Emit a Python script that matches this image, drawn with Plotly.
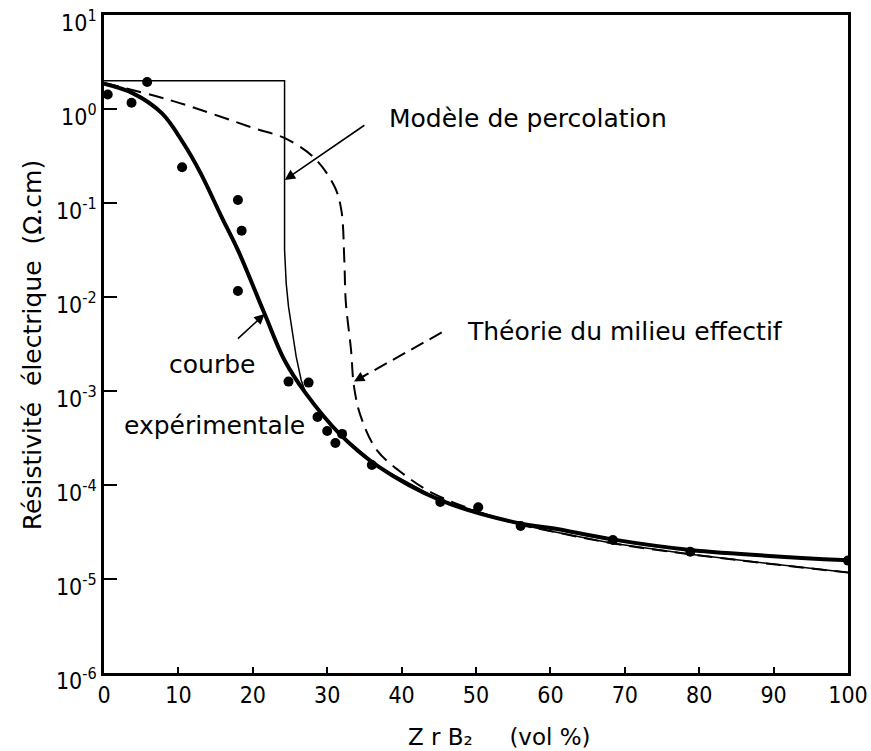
import numpy as np
import plotly.graph_objects as go

# ZrB2 volume fraction (vol %) and electrical resistivity (ohm.cm)
exp_x = [0.5, 3.7, 5.8, 10.5, 18.0, 18.5, 18.0, 24.8, 27.5, 28.7, 30.0, 31.1,
         32.0, 36.0, 45.2, 50.3, 56.0, 68.4, 78.8, 100]
exp_y = [1.43, 1.17, 1.94, 0.24, 0.108, 0.0507, 0.0116, 1.26e-3, 1.23e-3,
         5.3e-4, 3.75e-4, 2.8e-4, 3.5e-4, 1.63e-4, 6.6e-5, 5.8e-5, 3.66e-5,
         2.6e-5, 1.95e-5, 1.57e-5]

# fitted experimental curve
fit_x = [0, 3.9, 7.8, 10.7, 13.0, 15.8, 18.0, 21.6, 24.3, 27.1, 31.6, 36.9,
         45.2, 55.9, 60.3, 68.3, 78.8, 100]
fit_y = [1.86, 1.47, 0.90, 0.43, 0.207, 0.0714, 0.0316, 6.6e-3, 2.1e-3,
         9.5e-4, 3.55e-4, 1.57e-4, 6.9e-5, 3.9e-5, 3.47e-5, 2.64e-5,
         2.04e-5, 1.58e-5]

# percolation model
perc_x = [0, 24.27, 24.27, 24.49, 24.8, 25.24, 25.83, 26.5, 27.2, 31.6,
          36.9, 45.2, 55.9, 60.3, 68.3, 78.8, 100]
perc_y = [2.0, 2.0, 0.0316, 0.014, 7.9e-3, 4.47e-3, 2.32e-3, 1.31e-3,
          9.1e-4, 3.55e-4, 1.57e-4, 6.9e-5, 3.8e-5, 3.2e-5, 2.4e-5,
          1.83e-5, 1.17e-5]

# effective medium theory
emt_x = [0, 8.8, 15.7, 20.3, 24.3, 28.3, 31.0, 31.9, 32.3, 32.5, 33.2, 33.6,
         34.5, 36.7, 40.7, 44.3, 50, 55.9, 60.3, 68.3, 78.8, 100]
emt_y = [1.9, 1.25, 0.83, 0.62, 0.49, 0.30, 0.149, 0.084, 0.0248, 8.9e-3,
         2.75e-3, 1.12e-3, 5.4e-4, 2.34e-4, 1.23e-4, 8.1e-5, 5.3e-5, 3.8e-5,
         3.2e-5, 2.4e-5, 1.83e-5, 1.17e-5]

x_ticks = [0, 10, 20, 30, 40, 50, 60, 70, 80, 90, 100]
y_exponents = [-6, -5, -4, -3, -2, -1, 0, 1]

# label arrows: (tail x, tail y) -> (tip x, tip y)
perc_arrow = (35.2, 0.69, 24.3, 0.176)
emt_arrow = (45.4, 4.2e-3, 33.6, 1.26e-3)
fit_arrow = (17.8, 3.5e-3, 21.6, 6.6e-3)

TXT = "DejaVu Sans"
NUM = "Liberation Sans Narrow, DejaVu Sans Condensed, Liberation Sans, Arial"

fig = go.Figure()

fig.add_trace(go.Scatter(x=perc_x, y=perc_y, mode="lines",
                         line=dict(color="black", width=1.5)))
fig.add_trace(go.Scatter(x=emt_x, y=emt_y, mode="lines", line_shape="spline",
                         line=dict(color="black", width=2, dash="15px,8px")))
fig.add_trace(go.Scatter(x=fit_x, y=fit_y, mode="lines", line_shape="spline",
                         line=dict(color="black", width=4)))
fig.add_trace(go.Scatter(x=exp_x, y=exp_y, mode="markers",
                         marker=dict(color="black", size=10)))

# dashed leader for the effective-medium label
fig.add_trace(go.Scatter(x=[emt_arrow[0], emt_arrow[2]],
                         y=[emt_arrow[1], emt_arrow[3]], mode="lines",
                         line=dict(color="black", width=2, dash="14px,7px")))

annotations = []


def arrow(tail_x, tail_y, tip_x, tip_y, full=True):
    if not full:
        # only a short arrowhead near the tip
        tail_x = tip_x + (tail_x - tip_x) * 0.15
        tail_y = 10 ** (np.log10(tip_y) + (np.log10(tail_y) - np.log10(tip_y)) * 0.15)
    annotations.append(dict(
        x=tip_x, y=np.log10(tip_y), ax=tail_x, ay=np.log10(tail_y),
        xref="x", yref="y", axref="x", ayref="y", text="", showarrow=True,
        arrowhead=2, arrowsize=1.3, arrowwidth=1.6, arrowcolor="black"))


arrow(*perc_arrow)
arrow(*emt_arrow, full=False)
arrow(*fit_arrow)

label_font = dict(family=TXT, size=25, color="black")
annotations += [
    dict(x=38.0, y=-0.096, xref="x", yref="y", text="Modèle de percolation",
         showarrow=False, xanchor="left", yanchor="middle", font=label_font),
    dict(x=48.5, y=-2.37, xref="x", yref="y",
         text="Théorie du milieu effectif", showarrow=False,
         xanchor="left", yanchor="middle", font=label_font),
    dict(x=14.5, y=-2.72, xref="x", yref="y", text="courbe",
         showarrow=False, xanchor="center", yanchor="middle", font=label_font),
    dict(x=2.4, y=-3.37, xref="x", yref="y", text="expérimentale",
         showarrow=False, xanchor="left", yanchor="middle", font=label_font),
    dict(x=0.532, y=-0.097, xref="paper", yref="paper",
         text="Z\u00a0r\u00a0B\u2082\u00a0\u00a0\u00a0\u00a0\u00a0(vol\u00a0%)",
         showarrow=False, xanchor="center", yanchor="middle",
         font=dict(family=TXT, size=23, color="black")),
    dict(x=-0.097, y=0.498, xref="paper", yref="paper", textangle=-90,
         text="Résistivité\u00a0\u00a0électrique\u00a0\u00a0(Ω.cm)",
         showarrow=False, xanchor="center", yanchor="middle",
         font=dict(family=TXT, size=25, color="black")),
]

fig.update_layout(
    width=871, height=751,
    margin=dict(l=104, r=23, t=15, b=78, autoexpand=False),
    paper_bgcolor="white", plot_bgcolor="white",
    showlegend=False,
    annotations=annotations,
    xaxis=dict(range=[0, 100], tickvals=x_ticks, ticks="inside", ticklen=6,
               tickwidth=1.5, tickcolor="black", showline=True, linewidth=2.5,
               linecolor="black", mirror=True, showgrid=False, zeroline=False,
               ticklabeloverflow="allow", automargin=False,
               tickfont=dict(family=NUM, size=23, color="black")),
    yaxis=dict(type="log", range=[-6, 1.001],
               tickvals=[10.0 ** e for e in y_exponents],
               ticktext=[f"10<sup>{e}</sup>" for e in y_exponents],
               ticks="inside", ticklen=13, tickwidth=2, tickcolor="black",
               showline=True, linewidth=2.5, linecolor="black", mirror=True,
               showgrid=False, zeroline=False, ticklabeloverflow="allow",
               automargin=False, ticklabelshift=8,
               tickfont=dict(family=NUM, size=23, color="black")),
)

fig.write_html("out.html")
